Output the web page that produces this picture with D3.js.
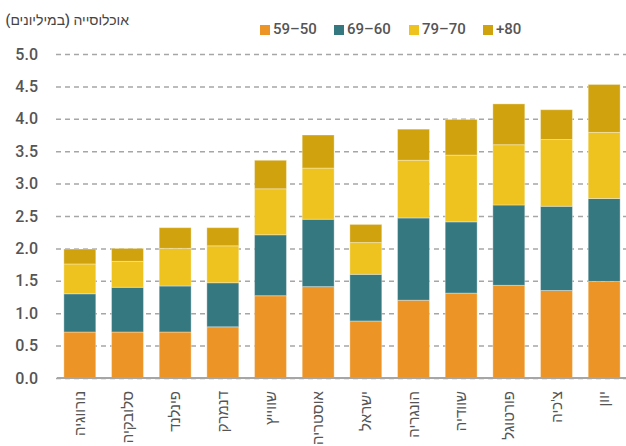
<!DOCTYPE html>
<html>
<head>
<meta charset="utf-8">
<script src="https://cdn.jsdelivr.net/npm/d3@7"></script>
<style>
  body { margin: 0; background: #fff; }
  text { font-family: Roboto, "Noto Sans", sans-serif; }
</style>
</head>
<body>
<div id="chart"></div>
<script>
// data
const countries = ['נורווגיה', 'סלובקיה', 'פינלנד', 'דנמרק', 'שווייץ', 'אוסטריה',
    'ישראל', 'הונגריה', 'שוודיה', 'פורטוגל', "צ'כיה", 'יוון'];
const ageKeys = ['59–50', '69–60', '79–70', '+80'];
const age50 = [0.71, 0.71, 0.71, 0.79, 1.27, 1.41, 0.88, 1.20, 1.31, 1.43, 1.35, 1.49];
const age60 = [0.59, 0.69, 0.71, 0.68, 0.94, 1.04, 0.72, 1.27, 1.10, 1.24, 1.30, 1.28];
const age70 = [0.46, 0.40, 0.58, 0.57, 0.71, 0.79, 0.49, 0.89, 1.03, 0.93, 1.03, 1.02];
const age80 = [0.23, 0.20, 0.32, 0.28, 0.44, 0.51, 0.28, 0.48, 0.55, 0.63, 0.46, 0.74];
const yTicks = [0, 0.5, 1, 1.5, 2, 2.5, 3, 3.5, 4, 4.5, 5];
const title = 'אוכלוסייה (במיליונים)';

const colors = ['#ec9426', '#367880', '#eec21f', '#d0a20d'];

const width = 626, height = 446;
const margin = {top: 54, right: 0, bottom: 68, left: 56};

const svg = d3.select('#chart').append('svg')
    .attr('width', width)
    .attr('height', height);

const rows = countries.map((c, i) => ({
    country: c,
    [ageKeys[0]]: age50[i],
    [ageKeys[1]]: age60[i],
    [ageKeys[2]]: age70[i],
    [ageKeys[3]]: age80[i]
}));

const series = d3.stack().keys(ageKeys)(rows);

let xScale = d3.scaleBand()
    .domain(countries)
    .range([margin.left, 628])
    .paddingInner(0.33)
    .paddingOuter(0.165);

let yScale = d3.scaleLinear()
    .domain([0, 5])
    .range([height - margin.bottom, margin.top]);

let colorScale = d3.scaleOrdinal()
    .domain(ageKeys)
    .range(colors);

// gridlines + tick labels
let yAxis = d3.axisLeft(yScale)
    .tickValues(yTicks)
    .tickFormat(d3.format('.1f'))
    .tickSize(-(width - margin.left))
    .tickPadding(18);

let yAxisGroup = svg.append('g')
    .attr('transform', 'translate(' + margin.left + ',0)')
    .call(yAxis);
yAxisGroup.select('.domain').remove();
yAxisGroup.selectAll('.tick line')
    .attr('stroke', '#a6a6a6')
    .attr('stroke-width', 1.5)
    .attr('stroke-dasharray', '5,4');
yAxisGroup.selectAll('.tick text')
    .attr('fill', '#555')
    .attr('font-size', 16)
    .attr('font-weight', 500);

// bars
svg.append('g')
    .selectAll('g')
    .data(series)
    .join('g')
    .attr('fill', d => colorScale(d.key))
    .selectAll('rect')
    .data(d => d)
    .join('rect')
    .attr('x', d => xScale(d.data.country))
    .attr('y', d => yScale(d[1]))
    .attr('width', xScale.bandwidth())
    .attr('height', d => yScale(d[0]) - yScale(d[1]))
    .attr('stroke', 'rgba(255,255,255,0.35)')
    .attr('stroke-width', 1);

// baseline
let xAxis = d3.axisBottom(xScale).tickSize(0).tickFormat('');
let xAxisGroup = svg.append('g')
    .attr('transform', 'translate(0,' + yScale(0) + ')')
    .call(xAxis);
xAxisGroup.select('.domain')
    .attr('d', 'M' + (margin.left + 1) + ',0H' + width)
    .attr('stroke', '#a6a6a6')
    .attr('stroke-width', 2);

// country labels
svg.append('g')
    .selectAll('text')
    .data(countries)
    .join('text')
    .attr('transform', d => 'translate(' + (xScale(d) + xScale.bandwidth() / 2) + ',' + (yScale(0) + 13) + ') rotate(-90)')
    .attr('text-anchor', 'end')
    .attr('dy', '0.35em')
    .attr('fill', '#555')
    .attr('font-size', 15)
    .text(d => d);

// title
svg.append('text')
    .attr('x', 129)
    .attr('y', 25)
    .attr('direction', 'rtl')
    .attr('text-anchor', 'start')
    .attr('fill', '#444')
    .attr('font-size', 14)
    .attr('font-weight', 500)
    .text(title);

// legend
const legendX = [260, 334, 409, 483];
let legend = svg.append('g')
    .selectAll('g')
    .data(ageKeys)
    .join('g')
    .attr('transform', (d, i) => 'translate(' + legendX[i] + ',25)');
legend.append('rect')
    .attr('width', 10)
    .attr('height', 10)
    .attr('fill', d => colorScale(d));
legend.append('text')
    .attr('x', 13)
    .attr('y', 9)
    .attr('fill', '#555')
    .attr('font-size', 15)
    .attr('font-weight', 500)
    .text(d => d);
</script>
</body>
</html>
